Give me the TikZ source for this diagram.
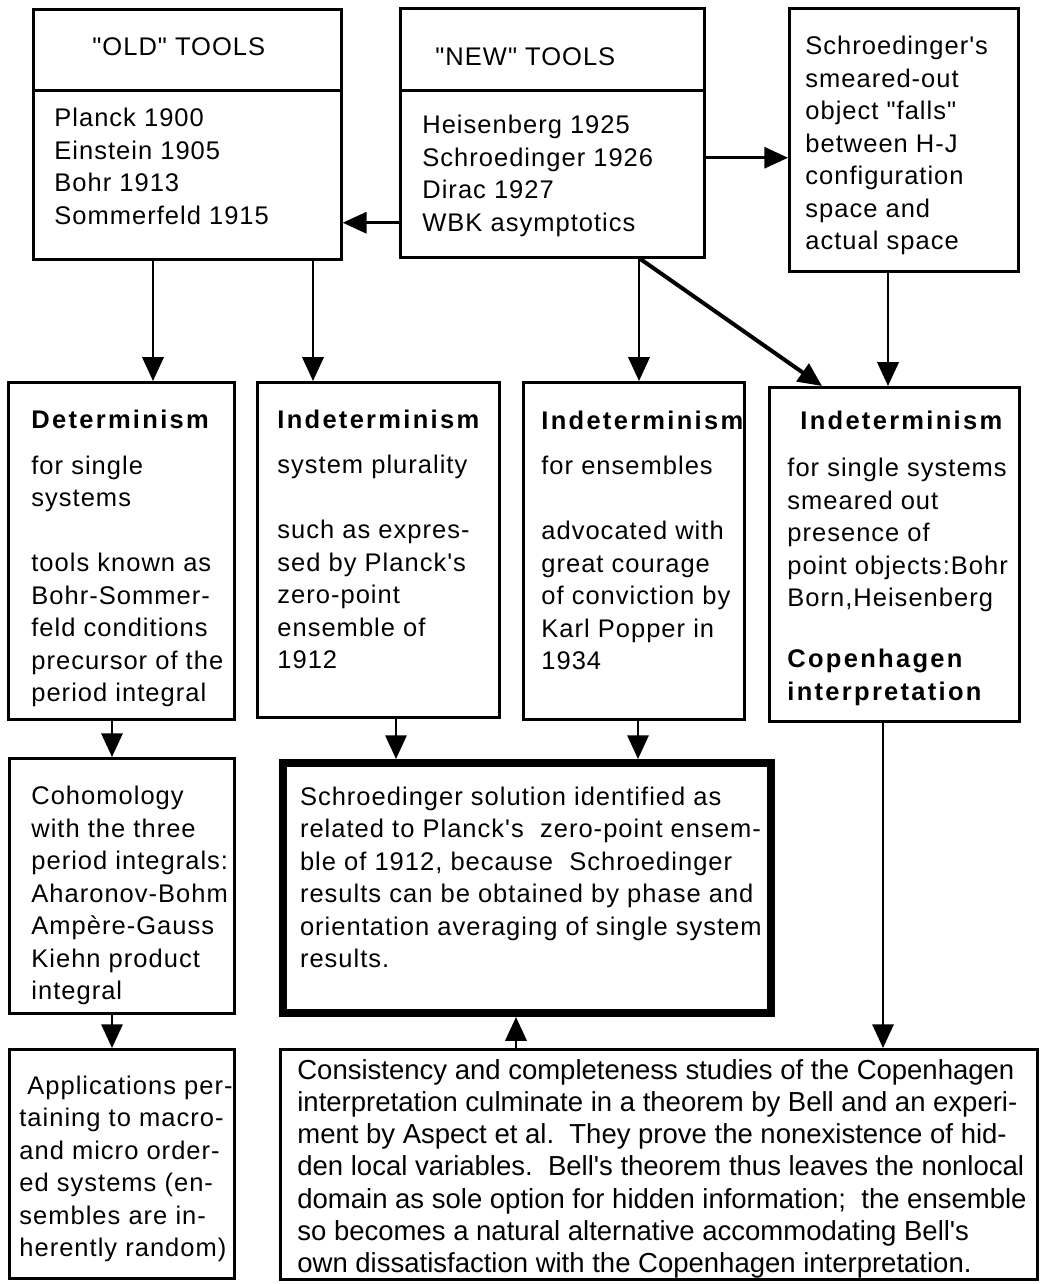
\documentclass[tikz,border=0pt]{standalone}
\usepackage{fontspec}
\usetikzlibrary{arrows.meta,calc}
\newfontfamily\boxfont[LetterSpace=4]{Liberation Sans}
\newfontfamily\consfont{Liberation Sans}
\newdimen\pxu \pxu=0.4pt
\newcommand{\hd}[1]{{\bfseries\addfontfeatures{LetterSpace=9}#1}}
% [raise]{left inset}{box width}{lines}
\newcommand{\boxlines}[4][0]{\makebox[#3\pxu][l]{\hspace*{#2\pxu}\raisebox{#1\pxu}[\height][\depth]{\begin{tabular}{@{}l@{}}#4\end{tabular}}}}
\tikzset{
  box/.style={draw, line width=1.1pt, anchor=north west, inner sep=0pt,
    font=\boxfont\fontsize{10.2}{13}\selectfont},
  sz/.style 2 args={minimum width=#1*0.4pt, minimum height=#2*0.4pt},
  heavy/.style={line width=3.2pt},
  arr/.style={line width=1pt, -{Triangle[length=9.5pt,width=8.5pt]}},
}
\begin{document}
\begin{tikzpicture}[x=0.4pt, y=-0.4pt]
\useasboundingbox (0,0) rectangle (1041,1284);

% top row: old and new tools
\node[box, sz={308}{81}] (oldT) at (32,8) {\boxlines[1]{59}{308}{"OLD" TOOLS}};
\node[box, sz={308}{169}] (oldB) at (32,89) {\boxlines[6]{21}{308}{Planck 1900\\ Einstein 1905\\ Bohr 1913\\ Sommerfeld 1915}};
\node[box, sz={304}{82}] (newT) at (399,7) {\boxlines[-10]{35}{304}{"NEW" TOOLS}};
\node[box, sz={304}{167}] (newB) at (399,89) {\boxlines[-2]{22}{304}{Heisenberg 1925\\ Schroedinger 1926\\ Dirac 1927\\ WBK asymptotics}};
\node[box, sz={229}{263}] (schr) at (788,7) {\boxlines[-6]{16}{229}{Schroedinger's\\ smeared-out\\ object "falls"\\ between H-J\\ configuration\\ space and\\ actual space}};

% second row
\node[box, sz={226}{337}] (det) at (7,381) {\boxlines[-8]{23}{226}{\hd{Determinism}\\[13\pxu] for single\\ systems\\ \\ tools known as\\ Bohr-Sommer-\\ feld conditions\\ precursor of the\\ period integral}};
\node[box, sz={242}{335}] (ind2) at (256,381) {\boxlines[8]{20}{242}{\hd{Indeterminism}\\[13\pxu] system plurality\\ \\ such as expres-\\ sed by Planck's\\ zero-point\\ ensemble of\\ 1912}};
\node[box, sz={221}{337}] (ind3) at (522,381) {\boxlines[8]{18}{221}{\hd{Indeterminism}\\[13\pxu] for ensembles\\ \\ advocated with\\ great courage\\ of conviction by\\ Karl Popper in\\ 1934}};
\node[box, sz={250}{334}] (ind4) at (768,386) {\boxlines[-4]{18}{250}{\hspace*{13\pxu}\hd{Indeterminism}\\[15\pxu] for single systems\\ smeared out\\ presence of\\ point objects:Bohr\\ Born,Heisenberg\\[-4\pxu] \\ \hd{Copenhagen}\\ \hd{interpretation}}};

% third row
\node[box, sz={225}{255}] (coh) at (8,757) {\boxlines[-10]{22}{225}{Cohomology\\ with the three\\ period integrals:\\ Aharonov-Bohm\\ Amp\`ere-Gauss\\ Kiehn product\\ integral}};
\node[box, heavy, sz={488}{250}] (res) at (279,759) {\boxlines[8]{17}{488}{Schroedinger solution identified as\\ related to Planck's\ \ zero-point ensem-\\ ble of 1912, because\ \ Schroedinger\\ results can be obtained by phase and\\ orientation averaging of single system\\ results.}};

% bottom row
\node[box, sz={225}{229}] (appl) at (8,1048) {\boxlines[-5]{10}{225}{\hspace*{8\pxu}Applications per-\\ taining to macro-\\ and micro order-\\ ed systems (en-\\ sembles are in-\\ herently random)}};
\node[box, sz={757}{230}, font=\consfont\fontsize{11}{12.9}\selectfont] (cons) at (279,1048) {\boxlines[-5]{17}{757}{Consistency and completeness studies of the Copenhagen\\ interpretation culminate in a theorem by Bell and an experi-\\ ment by Aspect et al.\ \ They prove the nonexistence of hid-\\ den local variables.\ \ Bell's theorem thus leaves the nonlocal\\ domain as sole option for hidden information;\ \ the ensemble\\ so becomes a natural alternative accommodating Bell's\\ own dissatisfaction with the Copenhagen interpretation.}};

% connectors
\draw[arr] ($(newB.south west)+(0,-36)$) coordinate (l1) -- (l1 -| oldB.east);
\draw[arr] ($(newB.south east)+(0,-101)$) coordinate (r1) -- (r1 -| schr.west);
\draw[arr] ($(oldB.south west)+(121,0)$) coordinate (d1) -- (d1 |- det.north);
\draw[arr] ($(oldB.south west)+(281,0)$) coordinate (d2) -- (d2 |- ind2.north);
\draw[arr] ($(newB.south west)+(240,0)$) coordinate (d3) -- (d3 |- ind3.north);
\draw[arr, line width=1.6pt] ($(newB.south west)+(241,0)$) -- ($(ind4.north west)+(54,0)$);
\draw[arr] ($(schr.south west)+(100,0)$) coordinate (d4) -- (d4 |- ind4.north);
\draw[arr] ($(det.south west)+(105,0)$) coordinate (d5) -- (d5 |- coh.north);
\draw[arr] ($(coh.south west)+(104,0)$) coordinate (d6) -- (d6 |- appl.north);
\draw[arr] ($(ind2.south west)+(140,0)$) coordinate (d7) -- (d7 |- res.north);
\draw[arr] ($(ind3.south west)+(116,0)$) coordinate (d8) -- (d8 |- res.north);
\draw[arr] ($(ind4.south west)+(115,0)$) coordinate (d9) -- (d9 |- cons.north);
\draw[arr] ($(cons.north west)+(237,0)$) coordinate (u1) -- (u1 |- res.south);
\end{tikzpicture}
\end{document}
